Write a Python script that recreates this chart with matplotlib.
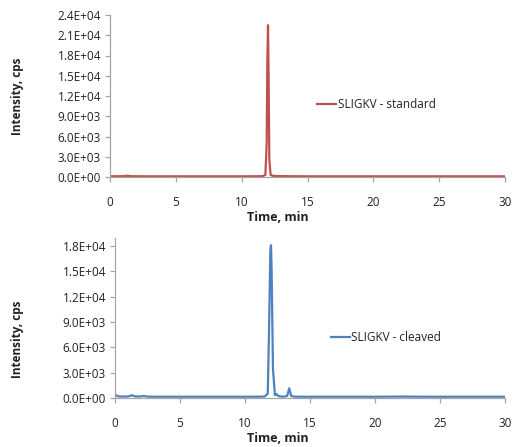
import matplotlib
matplotlib.use("Agg")
import matplotlib.pyplot as plt
from matplotlib.ticker import FuncFormatter, MultipleLocator

plt.rcParams['font.family'] = ['Open Sans', 'DejaVu Sans']

# ---- data ----
std_time = [0.0, 0.5, 1.0, 1.3, 1.6, 2.0, 3.0, 4.0, 5.0, 6.0, 7.0, 8.0, 9.0, 10.0, 11.0,
            11.6, 11.8, 11.9, 11.95, 12.0, 12.05, 12.1, 12.2, 12.4, 13.0, 14.0, 15.0,
            16.0, 18.0, 20.0, 22.0, 24.0, 26.0, 28.0, 30.0]
std_int = [120, 110, 120, 190, 120, 110, 100, 100, 100, 100, 100, 100, 100, 100, 110,
           130, 300, 5000, 17000, 22500, 14000, 2500, 300, 160, 130, 110, 100,
           100, 100, 100, 100, 100, 100, 100, 100]

clv_time = [0.0, 0.1, 0.3, 0.6, 1.0, 1.3, 1.5, 1.9, 2.2, 2.5, 3.0, 4.0, 5.0, 6.0, 7.0,
            8.0, 9.0, 10.0, 11.0, 11.5, 11.75, 11.85, 11.95, 12.0, 12.05, 12.15, 12.3,
            12.45, 12.55, 12.7, 13.0, 13.25, 13.4, 13.55, 13.8, 14.5, 16.0, 18.0,
            20.0, 22.0, 24.0, 26.0, 28.0, 30.0]
clv_int = [350, 300, 180, 170, 180, 330, 200, 170, 240, 160, 150, 150, 150, 150, 150,
           150, 150, 150, 150, 170, 500, 8000, 17500, 18100, 15000, 3500, 350,
           450, 250, 180, 160, 250, 1150, 250, 160, 150, 150, 150,
           150, 170, 150, 150, 150, 150]

std_label = "SLIGKV - standard"
clv_label = "SLIGKV - cleaved"
x_ticks = [0, 5, 10, 15, 20, 25, 30]

red = "#C0504D"
blue = "#4F81BD"
spine_col = "#A6A6A6"
txt_col = "#222222"

fig = plt.figure(figsize=(5.14, 4.47), dpi=100)
W, H = 514, 447

def make_ax(x0, x1, ytop, ybot):
    return fig.add_axes([x0 / W, 1 - ybot / H, (x1 - x0) / W, (ybot - ytop) / H])

ax1 = make_ax(110, 505, 15, 177)
ax2 = make_ax(115, 505, 238, 398)

fmt = FuncFormatter(lambda v, p: f"{v:.1E}")

def style(ax, ymax, lab_x, lab_y):
    for s in ("top", "right"):
        ax.spines[s].set_visible(False)
    for s in ("left", "bottom"):
        ax.spines[s].set_color(spine_col)
        ax.spines[s].set_linewidth(0.9)
    ax.set_xlim(0, 30)
    ax.set_ylim(0, ymax)
    ax.set_xticks(x_ticks)
    ax.yaxis.set_major_locator(MultipleLocator(3000))
    ax.yaxis.set_major_formatter(fmt)
    ax.tick_params(axis="both", direction="out", length=3.5, width=0.9,
                   color=spine_col, labelsize=8.5, labelcolor=txt_col, pad=3)
    ax.tick_params(axis="x", pad=10)
    ax.set_xlabel("Time, min", fontsize=9, fontweight="bold", color=txt_col)
    ax.set_ylabel("Intensity, cps", fontsize=8.5, fontweight="bold", color=txt_col)
    ax.yaxis.set_label_coords(lab_x, lab_y)

ax1.plot(std_time, std_int, color=red, lw=1.6, label=std_label)
style(ax1, 24000, -0.218, 0.5)
ax1.xaxis.set_label_coords(0.425, -0.21)
ax1.legend(loc="center left", bbox_to_anchor=(0.51, 0.445), frameon=False,
           fontsize=8.5, handlelength=1.6, handletextpad=0.15, borderpad=0,
           labelcolor=txt_col)

ax2.plot(clv_time, clv_int, color=blue, lw=1.6, label=clv_label)
style(ax2, 18950, -0.233, 0.37)
ax2.set_yticks([0, 3000, 6000, 9000, 12000, 15000, 18000])
ax2.xaxis.set_label_coords(0.418, -0.215)
ax2.legend(loc="center left", bbox_to_anchor=(0.538, 0.38), frameon=False,
           fontsize=8.5, handlelength=1.6, handletextpad=0.15, borderpad=0,
           labelcolor=txt_col)

fig.savefig("out.png", dpi=100)
